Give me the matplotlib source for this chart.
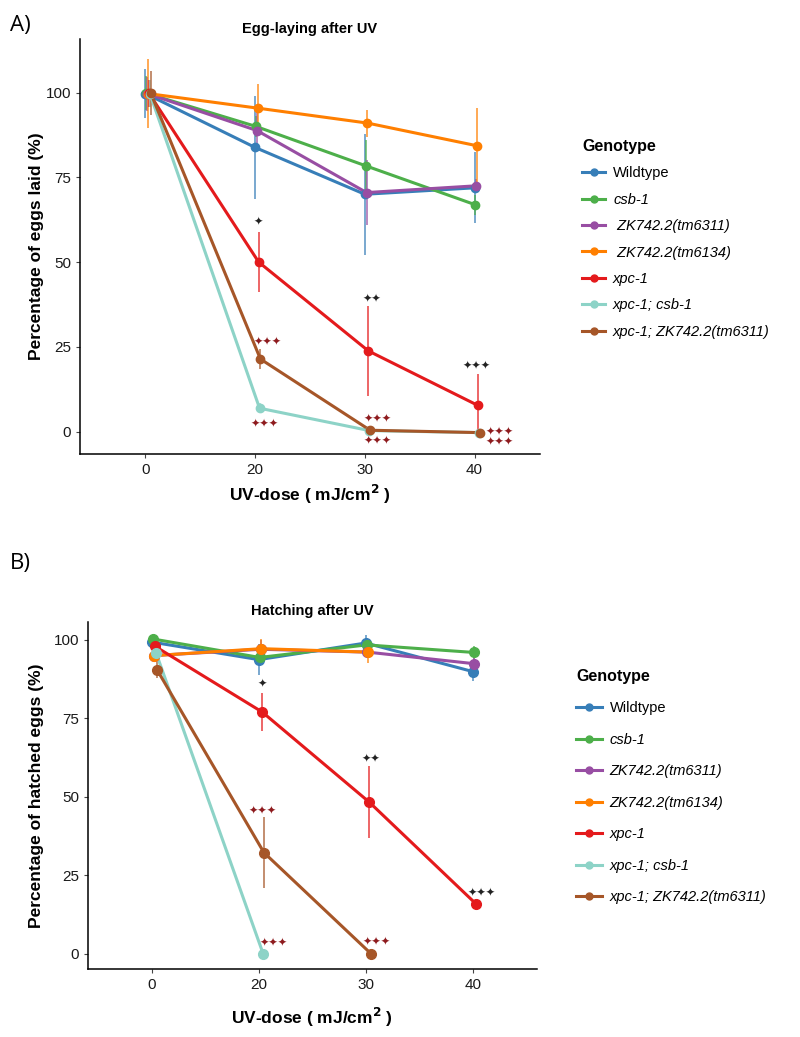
import numpy as np
import matplotlib.pyplot as plt
from matplotlib.lines import Line2D

plt.rcParams['font.family'] = ['Liberation Sans', 'DejaVu Sans']

doses = ["0", "20", "30", "40"]
genotypes = ["Wildtype", "csb-1", "ZK742.2(tm6311)", "ZK742.2(tm6134)",
             "xpc-1", "xpc-1; csb-1", "xpc-1; ZK742.2(tm6311)"]
colors = ["#377EB8", "#4DAF4A", "#984EA3", "#FF7F00",
          "#E41A1C", "#8DD3C7", "#A65628"]

nan = np.nan

# egg-laying after UV (% of eggs laid), mean and error per genotype
lay_mean = [
    [99.7, 83.8, 70.0, 71.9],
    [99.8, 90.0, 78.4, 66.9],
    [99.7, 88.8, 70.5, 72.5],
    [99.7, 95.4, 91.0, 84.3],
    [99.8, 50.0, 23.8, 7.7],
    [99.7, 6.9, 0.3, -0.3],
    [99.8, 21.4, 0.4, -0.3],
]
lay_err = [
    [7.2, 15.2, 17.9, 10.5],
    [5.0, 3.0, 7.6, 3.0],
    [5.0, 6.0, 9.6, 2.0],
    [10.3, 7.1, 4.0, 11.1],
    [4.0, 8.9, 13.3, 9.3],
    [4.0, 1.5, 0.5, 0.5],
    [6.5, 3.0, 0.5, 0.5],
]

# hatching after UV (% of hatched eggs)
hatch_mean = [
    [99.3, 93.7, 99.0, 89.9],
    [100.3, 94.4, 98.4, 96.0],
    [95.0, 97.0, 96.1, 92.4],
    [95.0, 97.2, 96.1, nan],
    [97.9, 77.0, 48.3, 15.8],
    [95.8, 0.0, nan, nan],
    [90.5, 32.2, 0.0, nan],
]
hatch_err = [
    [1.0, 5.0, 2.4, 3.0],
    [1.0, 2.0, 1.0, 2.0],
    [2.0, 3.0, 2.0, 3.0],
    [2.0, 3.0, 3.5, nan],
    [1.5, 6.2, 11.5, 1.0],
    [1.5, 0.0, nan, nan],
    [2.7, 11.4, 0.0, nan],
]

# significance marks: dose index, y value, number of stars, versus wildtype (k) or xpc-1 (r)
lay_sig_dose = [1, 2, 3, 1, 1, 2, 2, 3, 3]
lay_sig_y = [62.0, 39.3, 19.4, 26.6, 2.4, 3.9, -2.8, 0.0, -2.9]
lay_sig_n = [1, 2, 3, 3, 3, 3, 3, 3, 3]
lay_sig_ref = ["k", "k", "k", "r", "r", "r", "r", "r", "r"]

hatch_sig_dose = [1, 2, 3, 1, 1, 2]
hatch_sig_y = [85.9, 62.0, 19.5, 45.5, 3.3, 3.8]
hatch_sig_n = [1, 2, 3, 3, 3, 3]
hatch_sig_ref = ["k", "k", "k", "r", "r", "r"]

sig_colors = {"k": "#222222", "r": "#8E1B1E"}


def draw_panel(ax, means, errs, ms, sig_dose, sig_y, sig_n, sig_ref, sig_dx):
    x = np.arange(len(doses))
    for i, (m, e) in enumerate(zip(means, errs)):
        xi = x + i * 0.008
        m = np.array(m)
        e = np.array(e)
        ax.vlines(xi, m - e, m + e, color=colors[i], lw=1.1, alpha=0.85, zorder=2)
        ax.plot(xi, m, color=colors[i], lw=2.2, zorder=3 + i * 0.01,
                solid_capstyle='round')
        ax.plot(xi, m, 'o', color=colors[i], ms=ms, zorder=4 + i * 0.01)
    for d, y, n, r, dx in zip(sig_dose, sig_y, sig_n, sig_ref, sig_dx):
        ax.text(d + dx, y, "\u2726" * n, color=sig_colors[r], fontsize=8,
                ha='center', va='center', family='DejaVu Sans', zorder=6)
    ax.set_xticks(x)
    ax.set_xticklabels(doses)
    ax.set_yticks([0, 25, 50, 75, 100])
    ax.set_xlim(-0.6, 3.6)
    for s in ['top', 'right']:
        ax.spines[s].set_visible(False)
    for s in ['left', 'bottom']:
        ax.spines[s].set_linewidth(1.1)
        ax.spines[s].set_color('black')
    ax.tick_params(length=3, width=0.8, color='#444444', labelsize=11,
                   labelcolor='#1a1a1a', pad=3)


fig = plt.figure(figsize=(8, 10.37), dpi=100)

axA = fig.add_axes([0.0996, 0.5619, 0.5758, 0.4005])
draw_panel(axA, lay_mean, lay_err, 6, lay_sig_dose, lay_sig_y, lay_sig_n,
           lay_sig_ref, [0.03, 0.067, 0.015, 0.11, 0.09, 0.115, 0.115, 0.225, 0.225])
axA.set_ylim(-6.7, 115.8)
axA.set_title("Egg-laying after UV", fontsize=10.5, fontweight='bold', pad=4)
axA.set_ylabel("Percentage of eggs laid (%)", fontsize=12.5, fontweight='bold')
axA.set_xlabel("UV-dose ( mJ/cm$^{\\mathbf{2}}$ )", fontsize=12.5, fontweight='bold')
axA.yaxis.set_label_coords(-0.078, 0.5)
axA.xaxis.set_label_coords(0.5, -0.068)

axB = fig.add_axes([0.1096, 0.0653, 0.5615, 0.3352])
draw_panel(axB, hatch_mean, hatch_err, 7, hatch_sig_dose, hatch_sig_y, hatch_sig_n,
           hatch_sig_ref, [0.03, 0.05, 0.08, 0.04, 0.14, 0.1])
axB.set_ylim(-5.0, 105.8)
axB.set_title("Hatching after UV", fontsize=10.5, fontweight='bold', pad=5)
axB.set_ylabel("Percentage of hatched eggs (%)", fontsize=12.5, fontweight='bold')
axB.set_xlabel("UV-dose ( mJ/cm$^{\\mathbf{2}}$ )", fontsize=12.5, fontweight='bold')
axB.yaxis.set_label_coords(-0.097, 0.5)
axB.xaxis.set_label_coords(0.5, -0.105)

# legends
def make_handles():
    return [Line2D([0], [0], color=c, lw=2.2, marker='o', ms=5) for c in colors]

labA = [genotypes[0], genotypes[1], " " + genotypes[2], " " + genotypes[3]] + genotypes[4:]
legA = fig.legend(make_handles(), labA, loc='upper left', bbox_to_anchor=(0.728, 0.866),
                  frameon=False, title="Genotype", fontsize=10.5, borderpad=0,
                  borderaxespad=0, handlelength=1.55, handletextpad=0.55,
                  labelspacing=0.85, alignment='left')
legA.get_title().set_fontweight('bold')
legA.get_title().set_fontsize(11.5)

legB = fig.legend(make_handles(), genotypes, loc='upper left', bbox_to_anchor=(0.72, 0.355),
                  frameon=False, title="Genotype", fontsize=10.5, borderpad=0,
                  borderaxespad=0, handlelength=1.75, handletextpad=0.55,
                  labelspacing=1.2, alignment='left')
legB.get_title().set_fontweight('bold')
legB.get_title().set_fontsize(11.5)

for leg in (legA, legB):
    for t in leg.get_texts()[1:]:
        t.set_fontstyle('italic')

fig.text(0.012, 0.975, "A)", fontsize=16, family='Open Sans', va='center')
fig.text(0.012, 0.457, "B)", fontsize=16, family='Open Sans', va='center')

fig.savefig("out.png", dpi=100)
